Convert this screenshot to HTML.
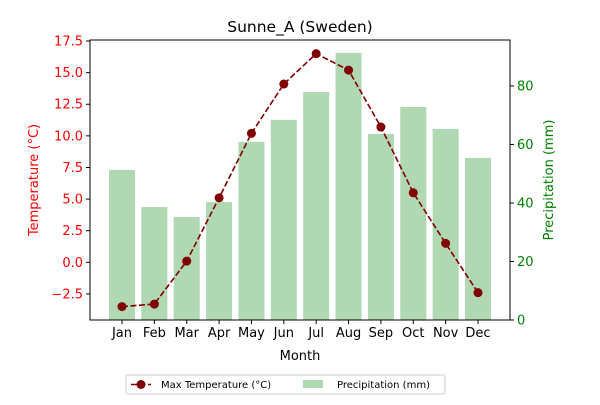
<!DOCTYPE html>
<html><head><meta charset="utf-8"><style>
body{margin:0;background:#fff;font-family:"Liberation Sans","DejaVu Sans",sans-serif;}
</style></head><body>
<svg id="chart" width="600" height="400" xmlns="http://www.w3.org/2000/svg" font-family="DejaVu Sans, Liberation Sans, sans-serif"></svg>
<script>
const months=["Jan","Feb","Mar","Apr","May","Jun","Jul","Aug","Sep","Oct","Nov","Dec"];
const maxTemp=[-3.5,-3.3,0.1,5.1,10.2,14.1,16.5,15.2,10.7,5.5,1.5,-2.4];
const precip=[51.3,38.6,35.2,40.3,60.9,68.4,77.9,91.3,63.6,72.8,65.3,55.4];
const tempTicks=[-2.5,0,2.5,5,7.5,10,12.5,15,17.5];
const precipTicks=[0,20,40,60,80];
const NS="http://www.w3.org/2000/svg";
const svg=document.getElementById('chart');
const L=90,R=510,T=40,B=320;
const tMin=-4.56,tMax=17.58,pMax=95.7;
const x=i=>122+i*(478-122)/11;
const yT=v=>B-(v-tMin)/(tMax-tMin)*(B-T);
const yP=v=>B-v/pMax*(B-T);
function el(tag,a,txt){const e=document.createElementNS(NS,tag);for(const k in a)e.setAttribute(k,a[k]);if(txt!==undefined)e.textContent=txt;svg.appendChild(e);return e;}
// bars
precip.forEach((v,i)=>{const r=el('rect',{x:x(i)-13,y:yP(v),width:26,height:B-yP(v),fill:'#b0d8b2'});

});
// line
const ln=el('polyline',{points:maxTemp.map((v,i)=>x(i)+','+yT(v)).join(' '),fill:'none',stroke:'#800000','stroke-width':1.6,'stroke-dasharray':'6,2.5'});


maxTemp.forEach((v,i)=>{const c=el('circle',{cx:x(i),cy:yT(v),r:4.5,fill:'#800000'});

});
// frame
const f=el('rect',{x:L,y:T,width:R-L,height:B-T,fill:'none',stroke:'#000','stroke-width':1});


// x ticks
months.forEach((m,i)=>{el('line',{x1:x(i),x2:x(i),y1:B,y2:B+4,stroke:'#000'});
const t=el('text',{x:x(i),y:B+17,'text-anchor':'middle','font-size':13},m);

});
// left ticks
tempTicks.forEach(v=>{el('line',{x1:L-4,x2:L,y1:yT(v),y2:yT(v),stroke:'#000'});
const t=el('text',{x:L-7,y:yT(v)+4.5,'text-anchor':'end','font-size':13,fill:'red'},v.toFixed(1).replace('-','−'));

});
// right ticks
precipTicks.forEach(v=>{el('line',{x1:R,x2:R+4,y1:yP(v),y2:yP(v),stroke:'#000'});
const t=el('text',{x:R+7,y:yP(v)+4.5,'font-size':13,fill:'green'},v);

});
const ttl=el('text',{x:300,y:32,'text-anchor':'middle','font-size':15.5},'Sunne_A (Sweden)');


const xl=el('text',{x:300,y:360,'text-anchor':'middle','font-size':13},'Month');


const yl=el('text',{x:0,y:0,'text-anchor':'middle','font-size':13,fill:'red',transform:'translate(38,180) rotate(-90)'},'Temperature (°C)');


const yr=el('text',{x:0,y:0,'text-anchor':'middle','font-size':13,fill:'green',transform:'translate(553,180) rotate(-90)'},'Precipitation (mm)');


// legend
const lg=el('rect',{x:126,y:375,width:319,height:19,fill:'#fff',stroke:'#ccc',rx:2});


el('line',{x1:131,x2:151,y1:384.5,y2:384.5,stroke:'#800000','stroke-width':1.6,'stroke-dasharray':'6,2.5'});
el('circle',{cx:141,cy:384.5,r:4.5,fill:'#800000'});
const l1=el('text',{x:161,y:388,'font-size':10},'Max Temperature (°C)');


el('rect',{x:303,y:380,width:20,height:8,fill:'#b0d8b2'});
const l2=el('text',{x:337,y:388,'font-size':10},'Precipitation (mm)');


</script>
</body></html>
